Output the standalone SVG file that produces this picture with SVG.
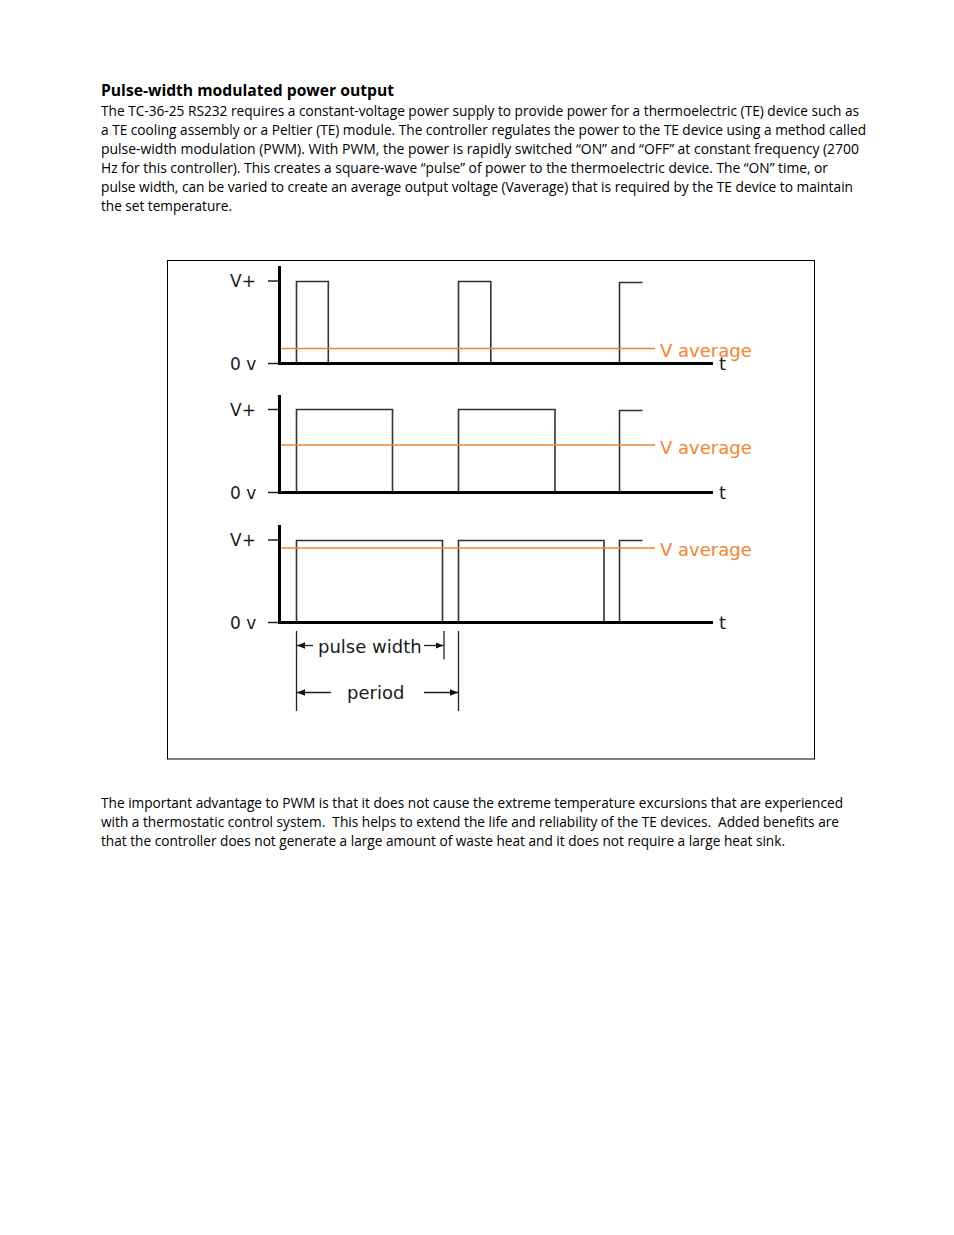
<svg xmlns="http://www.w3.org/2000/svg" width="954" height="1235" viewBox="0 0 954 1235">
<style>
.body{font-family:"Open Sans","Liberation Sans",sans-serif;font-size:13.6px;fill:#000}
.pre{white-space:pre}
.head{font-family:"Open Sans","Liberation Sans",sans-serif;font-size:15.5px;font-weight:bold;fill:#000}
.lbl{font-family:"DejaVu Sans","Liberation Sans",sans-serif;font-size:17px;fill:#1a1a1a}
.lblt{font-family:"DejaVu Sans","Liberation Sans",sans-serif;font-size:18px;fill:#1a1a1a}
.avg{font-family:"DejaVu Sans","Liberation Sans",sans-serif;font-size:18px;fill:#f5842f}
.axis{stroke:#000;stroke-width:3;fill:none}
.tick{stroke:#222;stroke-width:1.5;fill:none}
.wave{stroke:#333;stroke-width:1.6;fill:none}
.orange{stroke:#f5842f;stroke-width:1.6;fill:none}
.dim{stroke:#222;stroke-width:1.3;fill:none}
</style>
<defs>
<marker id="ah" viewBox="0 0 8 8" refX="8" refY="4" markerWidth="8" markerHeight="8" markerUnits="userSpaceOnUse" orient="auto">
<path d="M0,0.8 L8,4 L0,7.2 Z" fill="#111"/>
</marker>
</defs>
<rect width="954" height="1235" fill="#fff"/>

<g id="intro">
<text class="head" x="101" y="95.5" textLength="293" lengthAdjust="spacingAndGlyphs">Pulse-width modulated power output</text>
<text class="body" x="101" y="116" textLength="758" lengthAdjust="spacingAndGlyphs">The TC-36-25 RS232 requires a constant-voltage power supply to provide power for a thermoelectric (TE) device such as</text>
<text class="body" x="101" y="135" textLength="765" lengthAdjust="spacingAndGlyphs">a TE cooling assembly or a Peltier (TE) module. The controller regulates the power to the TE device using a method called</text>
<text class="body" x="101" y="154" textLength="758" lengthAdjust="spacingAndGlyphs">pulse-width modulation (PWM). With PWM, the power is rapidly switched “ON” and “OFF” at constant frequency (2700</text>
<text class="body" x="101" y="173" textLength="727" lengthAdjust="spacingAndGlyphs">Hz for this controller). This creates a square-wave “pulse” of power to the thermoelectric device. The “ON” time, or</text>
<text class="body" x="101" y="192" textLength="752" lengthAdjust="spacingAndGlyphs">pulse width, can be varied to create an average output voltage (Vaverage) that is required by the TE device to maintain</text>
<text class="body" x="101" y="211" textLength="131" lengthAdjust="spacingAndGlyphs">the set temperature.</text>
</g>

<g id="frame">
<rect x="167.5" y="260.5" width="647" height="498.5" fill="none" stroke="#000" stroke-width="1"/>
</g>

<g id="panel1">
<line class="tick" x1="268" y1="281" x2="280" y2="281"/>
<line class="tick" x1="268" y1="363.5" x2="280" y2="363.5"/>
<path class="wave" d="M296.5,363.5 V281.5 H328.3 V363.5 M458.5,363.5 V281.5 H490.8 V363.5 M619.5,363.5 V282.5 H642.5"/>
<line class="orange" x1="280" y1="348.5" x2="655" y2="348.5"/>
<path class="axis" d="M279.5,266 V363.5 H713"/>
<text class="lbl" x="230" y="287">V+</text>
<text class="lbl" x="230" y="369.5">0 v</text>
<text class="lblt" x="719" y="370">t</text>
<text class="avg" x="660" y="357">V average</text>
</g>

<g id="panel2">
<line class="tick" x1="268" y1="409.5" x2="280" y2="409.5"/>
<line class="tick" x1="268" y1="492.5" x2="280" y2="492.5"/>
<path class="wave" d="M296.5,492.5 V409.5 H392.5 V492.5 M458.5,492.5 V409.5 H555 V492.5 M619.5,492.5 V410.5 H642.5"/>
<line class="orange" x1="280" y1="445" x2="655" y2="445"/>
<path class="axis" d="M279.5,395 V492.5 H713"/>
<text class="lbl" x="230" y="415.5">V+</text>
<text class="lbl" x="230" y="498.5">0 v</text>
<text class="lblt" x="719" y="499">t</text>
<text class="avg" x="660" y="453.5">V average</text>
</g>

<g id="panel3">
<line class="tick" x1="268" y1="540" x2="280" y2="540"/>
<line class="tick" x1="268" y1="622.5" x2="280" y2="622.5"/>
<path class="wave" d="M296.5,622.5 V540.5 H442.5 V622.5 M458.5,622.5 V540.5 H604 V622.5 M619.5,622.5 V540.5 H642.5"/>
<line class="orange" x1="280" y1="548" x2="655" y2="548"/>
<path class="axis" d="M279.5,525 V622.5 H713"/>
<text class="lbl" x="230" y="628.5">0 v</text>
<text class="lbl" x="230" y="546">V+</text>
<text class="lblt" x="719" y="629">t</text>
<text class="avg" x="660" y="556">V average</text>
</g>

<g id="dimensions">
<line class="dim" x1="296.5" y1="631" x2="296.5" y2="711"/>
<line class="dim" x1="444" y1="631" x2="444" y2="659.5"/>
<line class="dim" x1="458.5" y1="631" x2="458.5" y2="711"/>
<line class="dim" x1="313" y1="645.5" x2="297" y2="645.5" marker-end="url(#ah)"/>
<line class="dim" x1="424" y1="645.5" x2="443.5" y2="645.5" marker-end="url(#ah)"/>
<line class="dim" x1="331" y1="692.5" x2="297" y2="692.5" marker-end="url(#ah)"/>
<line class="dim" x1="424" y1="692.5" x2="458" y2="692.5" marker-end="url(#ah)"/>
<text class="lblt" x="318" y="652.5">pulse width</text>
<text class="lblt" x="347" y="699">period</text>
</g>

<g id="conclusion">
<text class="body" x="101" y="808" textLength="742" lengthAdjust="spacingAndGlyphs">The important advantage to PWM is that it does not cause the extreme temperature excursions that are experienced</text>
<text class="body pre" x="101" y="827" textLength="738" lengthAdjust="spacingAndGlyphs">with a thermostatic control system.  This helps to extend the life and reliability of the TE devices.  Added benefits are</text>
<text class="body" x="101" y="846" textLength="684" lengthAdjust="spacingAndGlyphs">that the controller does not generate a large amount of waste heat and it does not require a large heat sink.</text>
</g>
</svg>
